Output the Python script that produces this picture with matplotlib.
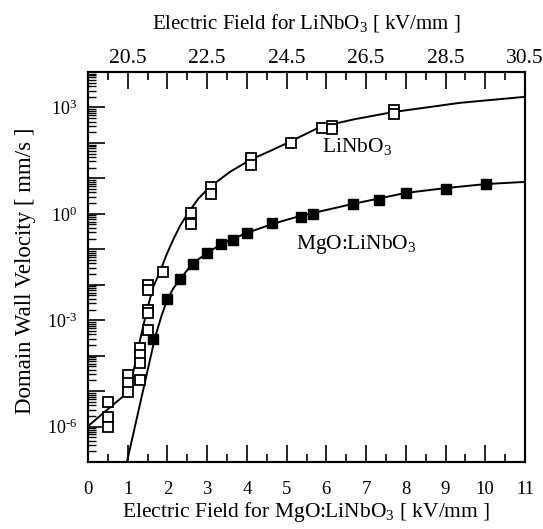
import numpy as np
import matplotlib
matplotlib.use('Agg')
import matplotlib.pyplot as plt
from matplotlib.ticker import FixedLocator, LogLocator, FuncFormatter, NullFormatter

plt.rcParams['font.family'] = ['Liberation Serif', 'DejaVu Serif']
plt.rcParams['mathtext.fontset'] = 'custom'
plt.rcParams['mathtext.rm'] = 'Liberation Serif'
plt.rcParams['mathtext.it'] = 'Liberation Serif:italic'

# MgO:LiNbO3 measured points (bottom axis, kV/mm) and velocity (log10 mm/s)
mgo_E = [1.64, 1.99, 2.32, 2.64, 3.0, 3.35, 3.65, 4.0, 4.63, 5.36, 5.66, 6.67, 7.32, 8.0, 9.01, 10.02]
mgo_logv = [-3.53, -2.40, -1.84, -1.42, -1.11, -0.85, -0.74, -0.54, -0.26, -0.09, 0.0, 0.28, 0.39, 0.59, 0.70, 0.84]

# LiNbO3 measured points (top axis, kV/mm)
li_E = [20.0, 20.0, 20.0, 20.5, 20.5, 20.5, 20.8, 20.8, 20.8, 20.8,
        21.0, 21.0, 21.0, 21.0, 21.0, 21.4, 22.1, 22.1, 22.6, 22.6,
        23.6, 23.6, 24.6, 25.4, 25.65, 25.65, 27.2, 27.2]
li_logv = [-5.31, -5.73, -6.01, -4.55, -4.77, -5.03, -3.79, -3.98, -4.21, -4.69,
           -2.01, -2.15, -2.71, -2.80, -3.28, -1.64, 0.02, -0.29, 0.76, 0.56,
           1.57, 1.38, 2.0, 2.42, 2.48, 2.39, 2.93, 2.82]

# fitted curves
mgo_fit_E = [0.98, 1.69, 1.85, 1.99, 2.15, 2.32, 2.64, 3.0, 3.35, 4.0, 4.63, 5.34, 6.67, 8.0, 9.04, 10.02, 11.0]
mgo_fit_logv = [-7.0, -3.475, -2.88, -2.43, -2.10, -1.84, -1.39, -1.11, -0.85, -0.54, -0.29, -0.06, 0.28, 0.59, 0.73, 0.84, 0.90]

li_fit_E = [19.5, 20.0, 20.51, 20.68, 20.81, 20.99, 21.14, 21.31, 21.47, 21.64, 21.82, 22.02, 22.27,
            22.57, 23.07, 23.58, 24.08, 24.58, 25.34, 26.22, 27.18, 28.86, 30.5]
li_fit_logv = [-5.99, -5.51, -5.03, -4.27, -3.56, -2.69, -2.07, -1.64, -1.17, -0.74, -0.33, 0.02, 0.42,
               0.76, 1.18, 1.52, 1.77, 2.03, 2.45, 2.67, 2.87, 3.13, 3.30]

fig = plt.figure(figsize=(5.43, 5.29), dpi=100)
ax = fig.add_axes([88/543, 67/529, 437/543, 390/529])
ax.set_yscale('log')
ax.set_xlim(0, 11)
ax.set_ylim(1e-7, 1e4)

ax.plot(mgo_fit_E, 10**np.array(mgo_fit_logv), color='black', lw=1.4)
ax.plot(mgo_E, 10**np.array(mgo_logv), 's', color='black', ms=7, zorder=5)

ax2 = ax.twiny()
ax2.set_xlim(19.5, 30.5)
ax2.plot(li_fit_E, 10**np.array(li_fit_logv), color='black', lw=1.4)
ax2.plot(li_E, 10**np.array(li_logv), 's', mfc='white', mec='black', mew=1.3, ms=6.8, zorder=5)

ax.text(5.89, 10**1.74, 'LiNbO$_3$', fontsize=15.5, va='baseline')
ax.text(5.24, 10**-0.99, 'MgO:LiNbO$_3$', fontsize=15.5, va='baseline')

# ticks
bot_major = np.arange(0, 12, 1)
ax.xaxis.set_major_locator(FixedLocator(bot_major))
ax.xaxis.set_minor_locator(FixedLocator(np.arange(0.5, 11, 1)))
ax.set_xticklabels([str(int(v)) for v in bot_major])

top_major = np.arange(20.5, 31, 1)
ax2.xaxis.set_major_locator(FixedLocator(top_major))
ax2.xaxis.set_minor_locator(FixedLocator(np.arange(20.0, 30.5, 1)))
ax2.set_xticklabels(['%.1f' % v if i % 2 == 0 else '' for i, v in enumerate(top_major)])

def ylab(v, p):
    k = int(round(np.log10(v)))
    if k % 3 != 0:
        return ''
    if k < 0:
        return '$10^{\u2010%d}$' % (-k)
    return '$10^{%d}$' % k

ax.yaxis.set_major_locator(FixedLocator([10.0**k for k in range(-7, 5)]))
ax.yaxis.set_minor_locator(LogLocator(base=10, subs=np.arange(2, 10), numticks=30))
ax.yaxis.set_minor_formatter(NullFormatter())
ax.yaxis.set_major_formatter(FuncFormatter(ylab))

ax.tick_params(axis='x', which='major', direction='in', length=12, width=1.2, labelsize=13.5, pad=14)
ax.tick_params(axis='x', which='minor', direction='in', length=6, width=1.2)
ax.tick_params(axis='y', which='major', direction='in', length=12, width=1.2, labelsize=13, pad=8, right=False)
ax.tick_params(axis='y', which='minor', direction='in', length=6, width=1.0)
ax2.tick_params(axis='x', which='major', direction='in', length=12, width=1.2, labelsize=15.5, pad=3)
ax2.tick_params(axis='x', which='minor', direction='in', length=6, width=1.2)

for a in (ax, ax2):
    for s in a.spines.values():
        s.set_linewidth(1.5)

ax.set_xlabel('Electric Field for MgO:LiNbO$_3$ [ kV/mm ]', fontsize=15.5, labelpad=1)
ax2.set_xlabel('Electric Field for LiNbO$_3$ [ kV/mm ]', fontsize=15, labelpad=15)
ax.set_ylabel('Domain Wall Velocity [ mm/s ]', fontsize=16.5)
ax.yaxis.set_label_coords(-0.118, 0.49)

fig.savefig('out.png', dpi=100)
